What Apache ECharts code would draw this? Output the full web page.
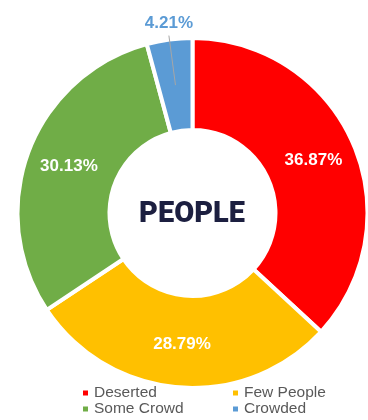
<!DOCTYPE html>
<html><head><meta charset="utf-8">
<script src="https://cdn.jsdelivr.net/npm/echarts@6/dist/echarts.min.js"></script>
<style>html,body{margin:0;padding:0;background:#fff}#c{width:368px;height:420px}</style>
</head><body><div id="c"></div>
<script>
const categories = ['Deserted', 'Few People', 'Some Crowd', 'Crowded'];
const values = [36.87, 28.79, 30.13, 4.21];
const colors = ['#FF0000', '#FFC000', '#70AD47', '#5B9BD5'];
const outsideLabelIndex = 3;
const centerTitle = 'PEOPLE';

const pct = p => p.value.toFixed(2) + '%';
const base = {
  type: 'pie', center: [192.5, 213], radius: [83, 175],
  startAngle: 90, clockwise: true
};

const chart = echarts.init(document.getElementById('c'));
chart.setOption({
  animation: false,
  title: {
    text: centerTitle, left: 192, textAlign: 'center', top: 200, padding: 0,
    textStyle: {fontFamily: 'Roboto', fontWeight: 900, fontSize: 29, color: '#1C1F40'}
  },
  legend: {
    data: categories.map((n, i) => ({name: n, itemStyle: {color: colors[i]}})),
    left: 81, top: 385, width: 300, padding: 0,
    itemWidth: 7, itemHeight: 7, itemGap: 0, icon: 'rect',
    textStyle: {fontFamily: 'Liberation Sans', fontSize: 15.5, color: '#595959', width: 137, lineHeight: 16}
  },
  series: [
    Object.assign({}, base, {
      itemStyle: {borderColor: '#fff', borderWidth: 4},
      label: {
        position: 'inside', formatter: pct,
        fontFamily: 'Liberation Sans', fontWeight: 'bold', fontSize: 17, color: '#fff'
      },
      labelLine: {show: false},
      data: categories.map((n, i) => ({
        name: n, value: values[i], itemStyle: {color: colors[i]},
        label: {show: i !== outsideLabelIndex}
      }))
    }),
    Object.assign({}, base, {
      z: 5, silent: true,
      itemStyle: {color: 'rgba(0,0,0,0)', borderWidth: 0},
      label: {show: false},
      labelLine: {show: false},
      labelLayout: function (params) {
        if (params.dataIndex !== outsideLabelIndex || !params.labelLinePoints) return {};
        const pts = params.labelLinePoints;
        const p0 = pts[0], p1 = pts[1];
        let dx = p1[0] - p0[0], dy = p1[1] - p0[1];
        const len = Math.sqrt(dx * dx + dy * dy) || 1;
        dx /= len; dy /= len;
        const s = [p0[0] - dx * 46, p0[1] - dy * 46];
        const e = [p0[0] + dx * 4, p0[1] + dy * 4];
        return {x: e[0], y: e[1] - 4, align: 'center', verticalAlign: 'bottom', labelLinePoints: [s, e, e]};
      },
      data: categories.map((n, i) => {
        const d = {name: n, value: values[i]};
        if (i === outsideLabelIndex) {
          d.label = {show: true, position: 'outside', formatter: pct,
            fontFamily: 'Liberation Sans', fontWeight: 'bold', fontSize: 17, color: colors[i]};
          d.labelLine = {show: true, length: 15, length2: 0, lineStyle: {color: '#A6A6A6', width: 1}};
        }
        return d;
      })
    })
  ]
});
</script></body></html>
